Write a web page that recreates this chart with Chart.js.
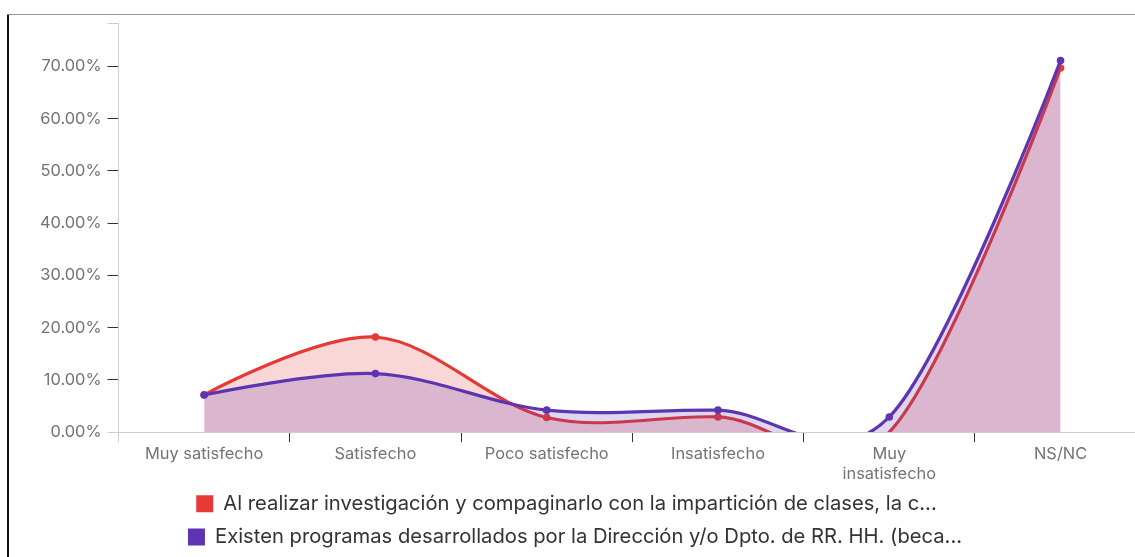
<!DOCTYPE html>
<html><head><meta charset="utf-8">
<script src="https://cdn.jsdelivr.net/npm/chart.js@4/dist/chart.umd.min.js"></script>
<style>
html,body{margin:0;padding:0;background:#fff;overflow:hidden;width:1135px;height:557px;}
#wrap{position:absolute;left:0;top:0;width:1150px;height:557px;}
#bl{position:absolute;left:7px;top:14px;width:2px;height:543px;background:#111;z-index:2;}
#bt{position:absolute;left:7px;top:14px;width:1128px;height:1px;background:#999;z-index:2;}
</style></head>
<body>
<div id="wrap"><canvas id="c" width="1150" height="557"></canvas></div>
<div id="bl"></div><div id="bt"></div>
<script>
const categories = ['Muy satisfecho', 'Satisfecho', 'Poco satisfecho', 'Insatisfecho', 'Muy insatisfecho', 'NS/NC'];
const xTickLabels = ['Muy satisfecho', 'Satisfecho', 'Poco satisfecho', 'Insatisfecho', ['Muy', 'insatisfecho'], 'NS/NC'];
const seriesNames = [
  'Al realizar investigación y compaginarlo con la impartición de clases, la c...',
  'Existen programas desarrollados por la Dirección y/o Dpto. de RR. HH. (beca...'
];
const redValues = [7.14, 18.2, 2.8, 2.9, 0, 69.7];
const purpleValues = [7.1, 11.2, 4.2, 4.2, 2.9, 71.1];
const yTickValues = [0, 10, 20, 30, 40, 50, 60, 70];
const yMax = 78.3;

const RED = 'rgb(229,57,53)', RED_FILL = 'rgba(229,57,53,0.2)';
const PUR = 'rgb(94,53,177)', PUR_FILL = 'rgba(94,53,177,0.2)';
const FONT = 'Inter';

const ptRadius = ctx => (ctx.raw === 0 ? 0 : 3.8);

// Cardinal (uniform Catmull-Rom) interpolation computed from the points Chart.js placed on its scales
const cardinalSpline = {
  id: 'cardinalSpline',
  afterDatasetsUpdate(chart) {
    const k = 1 / 6;
    chart.getSortedVisibleDatasetMetas().forEach(meta => {
      const pts = meta.data, n = pts.length;
      pts.forEach((p, i) => {
        if (i === 0 || i === n - 1) {
          p.cp1x = p.cp2x = p.x; p.cp1y = p.cp2y = p.y;
          return;
        }
        const pr = pts[i - 1], nx = pts[i + 1];
        const dx = (nx.x - pr.x) * k, dy = (nx.y - pr.y) * k;
        p.cp1x = p.x - dx; p.cp1y = p.y - dy;
        p.cp2x = p.x + dx; p.cp2y = p.y + dy;
      });
      if (meta.dataset) { meta.dataset._pointsUpdated = true; delete meta.dataset._path; }
    });
  }
};

new Chart(document.getElementById('c'), {
  type: 'line',
  plugins: [cardinalSpline],
  data: {
    labels: xTickLabels,
    datasets: [
      { label: seriesNames[0] + '\u00a0\u00a0\u00a0', data: redValues, borderColor: RED, backgroundColor: RED_FILL,
        pointBackgroundColor: RED, pointBorderColor: RED, order: 1 },
      { label: seriesNames[1], data: purpleValues, borderColor: PUR, backgroundColor: PUR_FILL,
        pointBackgroundColor: PUR, pointBorderColor: PUR, order: 0 }
    ]
  },
  options: {
    responsive: false,
    animation: false,
    devicePixelRatio: 1,
    layout: { padding: { left: 0, right: 0, top: 23, bottom: 0 } },
    elements: {
      line: { tension: 0.4, borderWidth: 3.2, fill: 'origin', capBezierPoints: false },
      point: { radius: ptRadius, borderWidth: 0, hoverRadius: 3.8 }
    },
    plugins: {
      tooltip: { enabled: false },
      legend: {
        position: 'bottom',
        labels: {
          boxWidth: 17, boxHeight: 17, padding: 13, color: '#333',
          font: { family: FONT, size: 20.2 },
          sort: (a, b) => a.datasetIndex - b.datasetIndex,
          generateLabels: chart => Chart.defaults.plugins.legend.labels.generateLabels(chart).map(l => {
            const ds = chart.data.datasets[l.datasetIndex];
            l.fillStyle = ds.borderColor; l.strokeStyle = ds.borderColor; l.lineWidth = 0;
            return l;
          })
        }
      }
    },
    scales: {
      x: {
        type: 'category',
        offset: true,
        grid: { offset: true, drawOnChartArea: false, tickLength: 10, lineWidth: 1,
          tickColor: ctx => (ctx.index === 0 ? '#cfcfcf' : '#333') },
        border: { display: true, color: '#cfcfcf', width: 1 },
        ticks: { color: '#737373', padding: 1.5, maxRotation: 0, autoSkip: false,
          font: { family: FONT, size: 16.4, lineHeight: 1.22 } },
        afterFit: s => { s.height = 48.5; }
      },
      y: {
        min: 0, max: yMax,
        grid: { drawOnChartArea: false, tickLength: 11, lineWidth: 1,
          tickColor: ctx => (ctx.tick && ctx.tick.value > 0 && ctx.tick.value <= 70 ? '#333' : '#cfcfcf') },
        border: { display: true, color: '#cfcfcf', width: 1 },
        ticks: { color: '#737373', padding: 6, font: { family: FONT, size: 16.4 },
          callback: v => (yTickValues.includes(v) ? v.toFixed(2) + '%' : '') },
        afterBuildTicks: s => { s.ticks = yTickValues.concat([yMax]).map(v => ({ value: v })); },
        afterFit: s => { s.width = 118.5; }
      }
    }
  }
});
</script>
</body></html>
